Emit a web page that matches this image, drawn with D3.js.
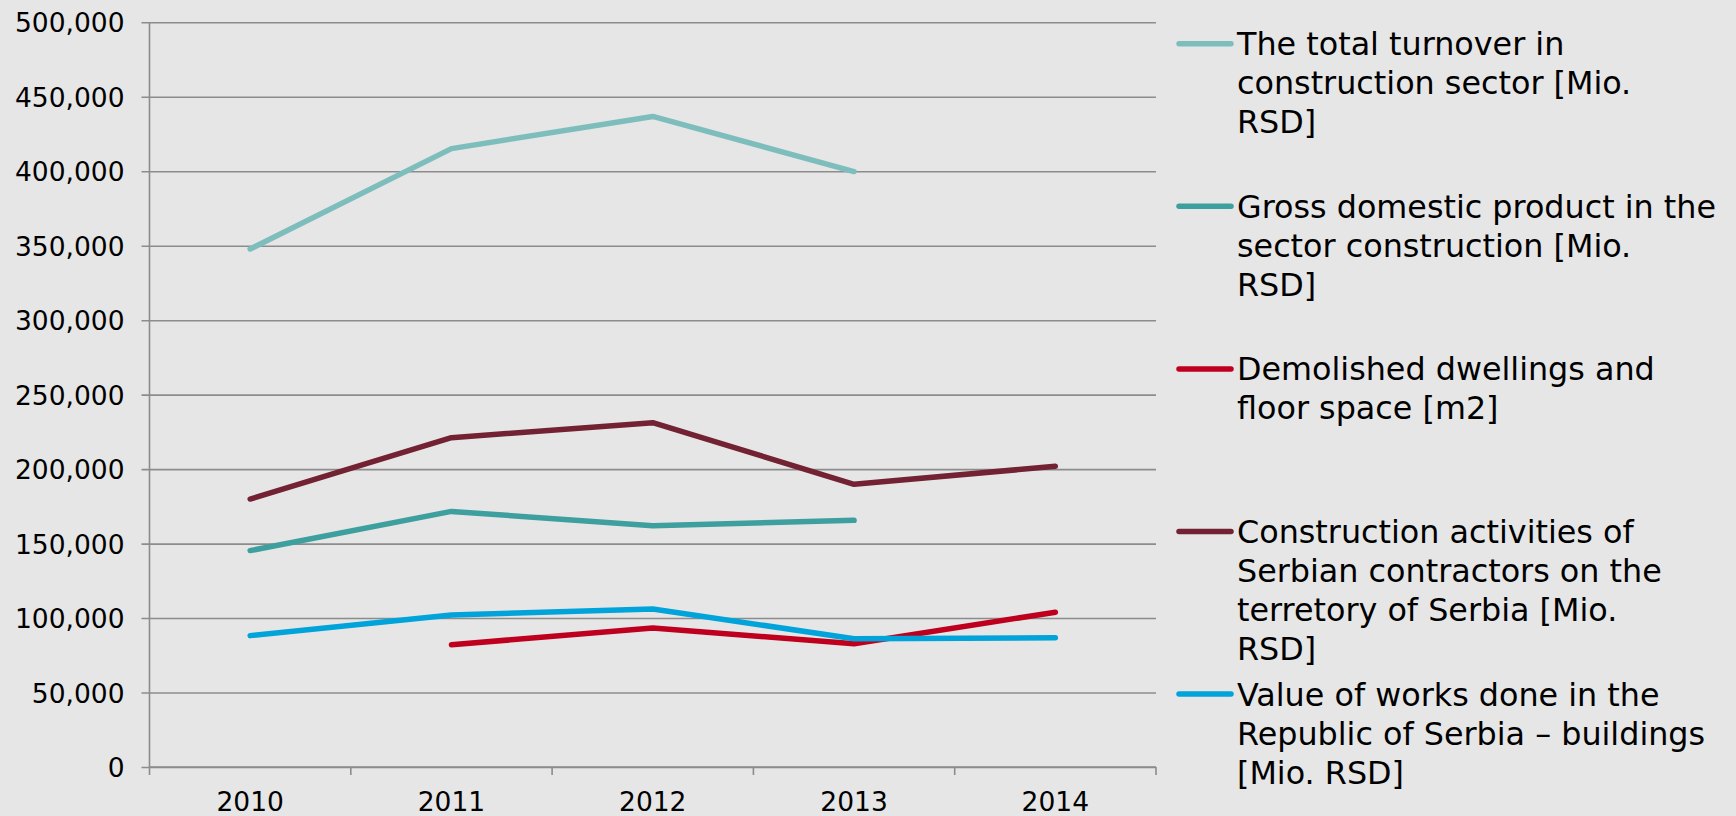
<!DOCTYPE html>
<html>
<head>
<meta charset="utf-8">
<script src="https://cdn.jsdelivr.net/npm/d3@7.9.0/dist/d3.min.js"></script>
<style>
  html, body { margin: 0; padding: 0; background: #e6e6e6; }
  svg { display: block; }
  svg text { font-family: 'DejaVu Sans', Verdana, sans-serif; fill: #000; }
</style>
</head>
<body>
<svg id="chart" width="1736" height="816"></svg>
<script>
// ====== Data ======
const years = ['2010', '2011', '2012', '2013', '2014'];
const yTicks = [0, 50000, 100000, 150000, 200000, 250000, 300000, 350000, 400000, 450000, 500000];

const turnover = [347800, 415200, 436800, 399800, null];
const gdp = [145300, 171600, 162000, 165600, null];
const demolished = [null, 82100, 93300, 82800, 103900];
const contractors = [179900, 221100, 231200, 189800, 201900];
const worksValue = [88200, 102100, 106100, 86100, 86800];

const seriesNames = [
  ['The total turnover in', 'construction sector [Mio.', 'RSD]'],
  ['Gross domestic product in the', 'sector construction [Mio.', 'RSD]'],
  ['Demolished dwellings and', 'floor space [m2]'],
  ['Construction activities of', 'Serbian contractors on the', 'terretory of Serbia [Mio.', 'RSD]'],
  ['Value of works done in the', 'Republic of Serbia – buildings', '[Mio. RSD]'],
];
const seriesValues = [turnover, gdp, demolished, contractors, worksValue];
const seriesColors = ['#7dbebd', '#3d9f9e', '#be001e', '#722233', '#00a3da'];

// ====== Setup ======
const svg = d3.select('#chart');
const plot = { left: 149.5, right: 1156, top: 22.3, bottom: 767 };
const gridColor = '#8c8c8c';

const x = d3.scaleBand().domain(years).range([plot.left, plot.right]);
const y = d3.scaleLinear().domain([0, 500000]).range([plot.bottom, plot.top]);
const fmt = d3.format(',');

// ====== Gridlines + y axis ======
const yAxis = svg.append('g')
  .attr('transform', `translate(${plot.left},0)`)
  .call(d3.axisLeft(y).tickValues(yTicks).tickFormat(fmt).tickSize(8).tickPadding(17))
  .attr('font-family', null)
  .attr('font-size', null);
yAxis.select('.domain').remove();
yAxis.selectAll('.tick line')
  .attr('x2', plot.right - plot.left)
  .attr('x1', -8)
  .attr('stroke', gridColor)
  .attr('stroke-width', 1.6);
yAxis.selectAll('.tick text')
  .attr('dy', '0.36em')
  .attr('fill', '#000')
  .style('font-size', '26.5px');

svg.append('line')
  .attr('x1', plot.left).attr('x2', plot.left)
  .attr('y1', plot.top).attr('y2', plot.bottom)
  .attr('stroke', gridColor).attr('stroke-width', 1.6);

// ====== x axis ======
svg.append('line')
  .attr('x1', plot.left).attr('x2', plot.right)
  .attr('y1', plot.bottom).attr('y2', plot.bottom)
  .attr('stroke', gridColor).attr('stroke-width', 1.6);

const edges = years.map((d) => x(d)).concat([plot.right]);
svg.selectAll('.xtick')
  .data(edges)
  .join('line')
  .attr('class', 'xtick')
  .attr('x1', (d) => d).attr('x2', (d) => d)
  .attr('y1', plot.bottom).attr('y2', plot.bottom + 8)
  .attr('stroke', gridColor).attr('stroke-width', 1.6);

svg.selectAll('.xlabel')
  .data(years)
  .join('text')
  .attr('class', 'xlabel')
  .attr('x', (d) => x(d) + x.bandwidth() / 2)
  .attr('y', plot.bottom + 44)
  .attr('text-anchor', 'middle')
  .style('font-size', '26.5px')
  .text((d) => d);

// ====== Lines ======
const line = d3.line()
  .defined((d) => d.v != null)
  .x((d) => x(d.year) + x.bandwidth() / 2)
  .y((d) => y(d.v));

seriesValues.forEach((vals, i) => {
  const pts = years.map((year, j) => ({ year, v: vals[j] }));
  svg.append('path')
    .attr('d', line(pts))
    .attr('fill', 'none')
    .attr('stroke', seriesColors[i])
    .attr('stroke-width', 5.5)
    .attr('stroke-linecap', 'round')
    .attr('stroke-linejoin', 'round');
});

// ====== Legend ======
const legendX = 1177, legendY = 43.7, legendStep = 162.6, lineH = 39;
seriesNames.forEach((lines, i) => {
  const g = svg.append('g').attr('transform', `translate(${legendX},${legendY + i * legendStep})`);
  g.append('line')
    .attr('x1', 2).attr('x2', 54)
    .attr('stroke', seriesColors[i])
    .attr('stroke-width', 5.5)
    .attr('stroke-linecap', 'round');
  g.selectAll('text')
    .data(lines)
    .join('text')
    .attr('x', 60)
    .attr('y', (d, k) => 11.5 + k * lineH)
    .style('font-size', '31.8px')
    .text((d) => d);
});
</script>
</body>
</html>
